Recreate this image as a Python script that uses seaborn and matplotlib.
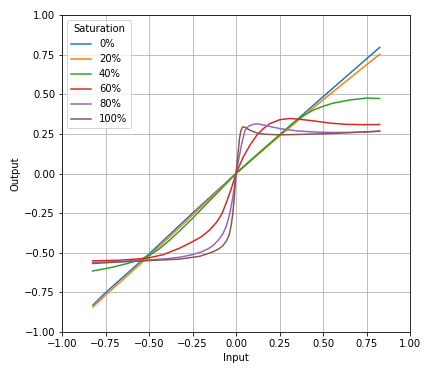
import matplotlib
matplotlib.use("Agg")
import matplotlib.pyplot as plt
import seaborn as sns
import pandas as pd

labels = ["0%", "20%", "40%", "60%", "80%", "100%"]
colors = ["#1f77b4", "#ff7f0e", "#2ca02c", "#d62728", "#9467bd", "#8c564b"]

x_0 = [-0.822, -0.75, -0.5, -0.25, 0.0, 0.25, 0.5, 0.826]
y_0 = [-0.830, -0.752, -0.508, -0.25, 0.0, 0.242, 0.484, 0.796]

x_20 = [-0.822, -0.75, -0.5, -0.322, -0.25, 0.0, 0.25, 0.368, 0.5, 0.75, 0.826]
y_20 = [-0.842, -0.767, -0.522, -0.338, -0.262, 0.0, 0.236, 0.345, 0.465, 0.686, 0.752]

x_40 = [-0.824, -0.75, -0.705, -0.621, -0.56, -0.5, -0.44, -0.379, -0.322, -0.25, -0.168, -0.1,
        0.0, 0.1, 0.215, 0.3, 0.368, 0.444, 0.5, 0.559, 0.655, 0.751, 0.826]
y_40 = [-0.615, -0.600, -0.590, -0.567, -0.546, -0.518, -0.475, -0.418, -0.360, -0.283, -0.190, -0.114,
        0.0, 0.100, 0.210, 0.292, 0.352, 0.400, 0.424, 0.444, 0.464, 0.476, 0.473]

x_60 = [-0.824, -0.667, -0.513, -0.418, -0.322, -0.25, -0.2, -0.15, -0.11, -0.08, -0.05, -0.025,
        0.0, 0.042, 0.08, 0.119, 0.157, 0.195, 0.253, 0.31, 0.368, 0.444, 0.54, 0.636, 0.73, 0.826]
y_60 = [-0.551, -0.547, -0.535, -0.512, -0.470, -0.430, -0.400, -0.355, -0.305, -0.252, -0.167, -0.088,
        0.0, 0.105, 0.178, 0.241, 0.283, 0.315, 0.340, 0.347, 0.342, 0.332, 0.318, 0.310, 0.308, 0.309]

x_80 = [-0.824, -0.75, -0.513, -0.4, -0.322, -0.25, -0.2, -0.16, -0.13, -0.1, -0.075, -0.055, -0.035,
        -0.02, -0.01, 0.0, 0.016, 0.033, 0.052, 0.071, 0.1, 0.128, 0.157, 0.253, 0.349, 0.444, 0.54,
        0.65, 0.75, 0.826]
y_80 = [-0.561, -0.558, -0.546, -0.538, -0.528, -0.512, -0.495, -0.475, -0.453, -0.418, -0.380, -0.330,
        -0.250, -0.160, -0.090, 0.0, 0.090, 0.189, 0.273, 0.298, 0.311, 0.313, 0.306, 0.283, 0.269, 0.262,
        0.259, 0.259, 0.262, 0.266]

x_100 = [-0.824, -0.75, -0.513, -0.322, -0.207, -0.16, -0.13, -0.1, -0.075, -0.055, -0.04, -0.028,
         -0.018, -0.01, -0.004, 0.0, 0.012, 0.02, 0.028, 0.038, 0.052, 0.08, 0.119, 0.157, 0.253,
         0.349, 0.54, 0.7, 0.826]
y_100 = [-0.568, -0.563, -0.550, -0.540, -0.522, -0.505, -0.493, -0.476, -0.455, -0.425, -0.390, -0.330,
         -0.250, -0.150, -0.060, 0.0, 0.130, 0.220, 0.270, 0.294, 0.292, 0.273, 0.256, 0.248, 0.244,
         0.246, 0.252, 0.260, 0.268]

xs = [x_0, x_20, x_40, x_60, x_80, x_100]
ys = [y_0, y_20, y_40, y_60, y_80, y_100]

frames = []
for lab, xv, yv in zip(labels, xs, ys):
    frames.append(pd.DataFrame({"Input": xv, "Output": yv, "Saturation": lab}))
df = pd.concat(frames, ignore_index=True)

fig = plt.figure(figsize=(432 / 72, 374 / 72), dpi=72)
ax = fig.add_axes([62 / 432, 1 - 332 / 374, 348 / 432, 317 / 374])

sns.lineplot(data=df, x="Input", y="Output", hue="Saturation", hue_order=labels,
             palette=colors, estimator=None, sort=False, linewidth=1.5, ax=ax)

ticks = [-1.0, -0.75, -0.5, -0.25, 0.0, 0.25, 0.5, 0.75, 1.0]
ax.set_xlim(-1, 1)
ax.set_ylim(-1, 1)
ax.set_xticks(ticks)
ax.set_yticks(ticks)
ax.set_xticklabels([f"{t:.2f}".replace("-", "\u2212") for t in ticks])
ax.set_yticklabels([f"{t:.2f}".replace("-", "\u2212") for t in ticks])
ax.grid(True, color="#b0b0b0", linewidth=0.8)
ax.set_axisbelow(True)
ax.set_xlabel("Input")
ax.set_ylabel("Output")
ax.legend(title="Saturation", loc="upper left")

fig.savefig("out.png", dpi=72)
